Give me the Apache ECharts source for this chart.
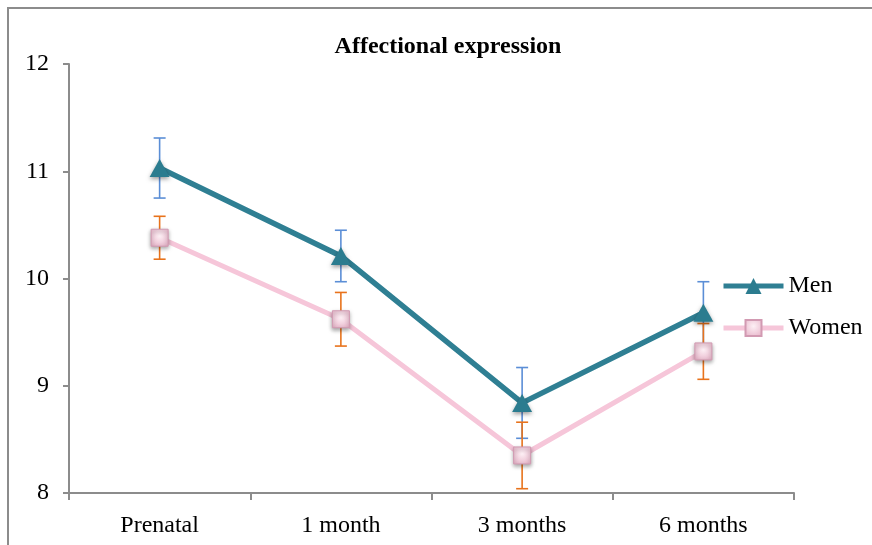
<!DOCTYPE html>
<html>
<head>
<meta charset="utf-8">
<script src="https://cdn.jsdelivr.net/npm/echarts@6/dist/echarts.min.js"></script>
<style>
html,body{margin:0;padding:0;background:#fff;}
#frame{position:absolute;left:7px;top:7px;width:880px;height:560px;border:2px solid #8c8c8c;box-sizing:border-box;}
#chart{position:absolute;left:0;top:0;width:872px;height:545px;}
</style>
</head>
<body>
<div id="frame"></div>
<div id="chart"></div>
<script>
const categories = ['Prenatal', '1 month', '3 months', '6 months'];
const menValues = [11.03, 10.21, 8.84, 9.68];
const menErrors = [0.28, 0.24, 0.33, 0.29];
const womenValues = [10.38, 9.62, 8.35, 9.32];
const womenErrors = [0.20, 0.25, 0.31, 0.26];
const yTicks = [8, 9, 10, 11, 12];

const chart = echarts.init(document.getElementById('chart'));
const font = '"Liberation Serif", "Times New Roman", serif';

function errData(vals, errs) {
  return vals.map((v, i) => [i, v, errs[i]]);
}
function errRender(color) {
  return function (params, api) {
    const i = api.value(0), v = api.value(1), e = api.value(2);
    const top = api.coord([i, v + e]);
    const bot = api.coord([i, v - e]);
    const hw = 6;
    const style = { stroke: color, lineWidth: 1.6 };
    return {
      type: 'group',
      children: [
        { type: 'line', shape: { x1: top[0], y1: top[1], x2: bot[0], y2: bot[1] }, style },
        { type: 'line', shape: { x1: top[0] - hw, y1: top[1], x2: top[0] + hw, y2: top[1] }, style },
        { type: 'line', shape: { x1: bot[0] - hw, y1: bot[1], x2: bot[0] + hw, y2: bot[1] }, style }
      ]
    };
  };
}

chart.setOption({
  animation: false,
  title: {
    text: 'Affectional expression',
    left: 443, top: 30, textAlign: 'center',
    textStyle: { fontFamily: font, fontWeight: 'bold', fontSize: 24, color: '#000' }
  },
  legend: {
    orient: 'vertical',
    left: 721, top: 274, padding: 0,
    itemWidth: 60, itemHeight: 20, itemGap: 18,
    lineStyle: { width: 5 },
    textStyle: { fontFamily: font, fontSize: 24, color: '#000' },
    data: ['Men', 'Women']
  },
  grid: { left: 69, right: 78, top: 64, bottom: 52 },
  xAxis: {
    type: 'category',
    data: categories,
    boundaryGap: true,
    axisLine: { lineStyle: { color: '#8c8c8c', width: 2 } },
    axisTick: { show: true, length: 7, lineStyle: { color: '#8c8c8c', width: 2 } },
    axisLabel: { fontFamily: font, fontSize: 24, color: '#000', margin: 21 },
    splitLine: { show: false }
  },
  yAxis: {
    type: 'value',
    min: yTicks[0], max: yTicks[yTicks.length - 1], interval: 1,
    axisLine: { show: true, lineStyle: { color: '#8c8c8c', width: 2 } },
    axisTick: { show: true, inside: false, length: 6, lineStyle: { color: '#8c8c8c', width: 2 } },
    axisLabel: { fontFamily: font, fontSize: 24, color: '#000', margin: 20 },
    splitLine: { show: false }
  },
  series: [
    {
      name: 'MenErr', type: 'custom', z: 1,
      renderItem: errRender('#5b8ed6'),
      data: errData(menValues, menErrors),
      encode: { x: 0, y: 1 }
    },
    {
      name: 'WomenErr', type: 'custom', z: 1,
      renderItem: errRender('#e8731c'),
      data: errData(womenValues, womenErrors),
      encode: { x: 0, y: 1 }
    },
    {
      name: 'Women', type: 'line', z: 3,
      data: womenValues,
      symbol: 'rect', symbolSize: 17,
      lineStyle: { color: '#f6c6d9', width: 5 },
      itemStyle: {
        color: new echarts.graphic.RadialGradient(0.5, 0.4, 0.7, [
          { offset: 0, color: '#fdf0f5' },
          { offset: 1, color: '#e7b3c8' }
        ]),
        borderColor: '#d29ab2', borderWidth: 1,
        shadowBlur: 4, shadowColor: 'rgba(0,0,0,0.35)', shadowOffsetY: 2
      }
    },
    {
      name: 'Men', type: 'line', z: 4,
      data: menValues,
      symbol: 'triangle', symbolSize: [20, 18],
      lineStyle: { color: '#2f7f93', width: 5.5 },
      itemStyle: {
        color: '#2b7c8f',
        shadowBlur: 4, shadowColor: 'rgba(0,0,0,0.4)', shadowOffsetY: 2
      }
    }
  ]
});
</script>
</body>
</html>
